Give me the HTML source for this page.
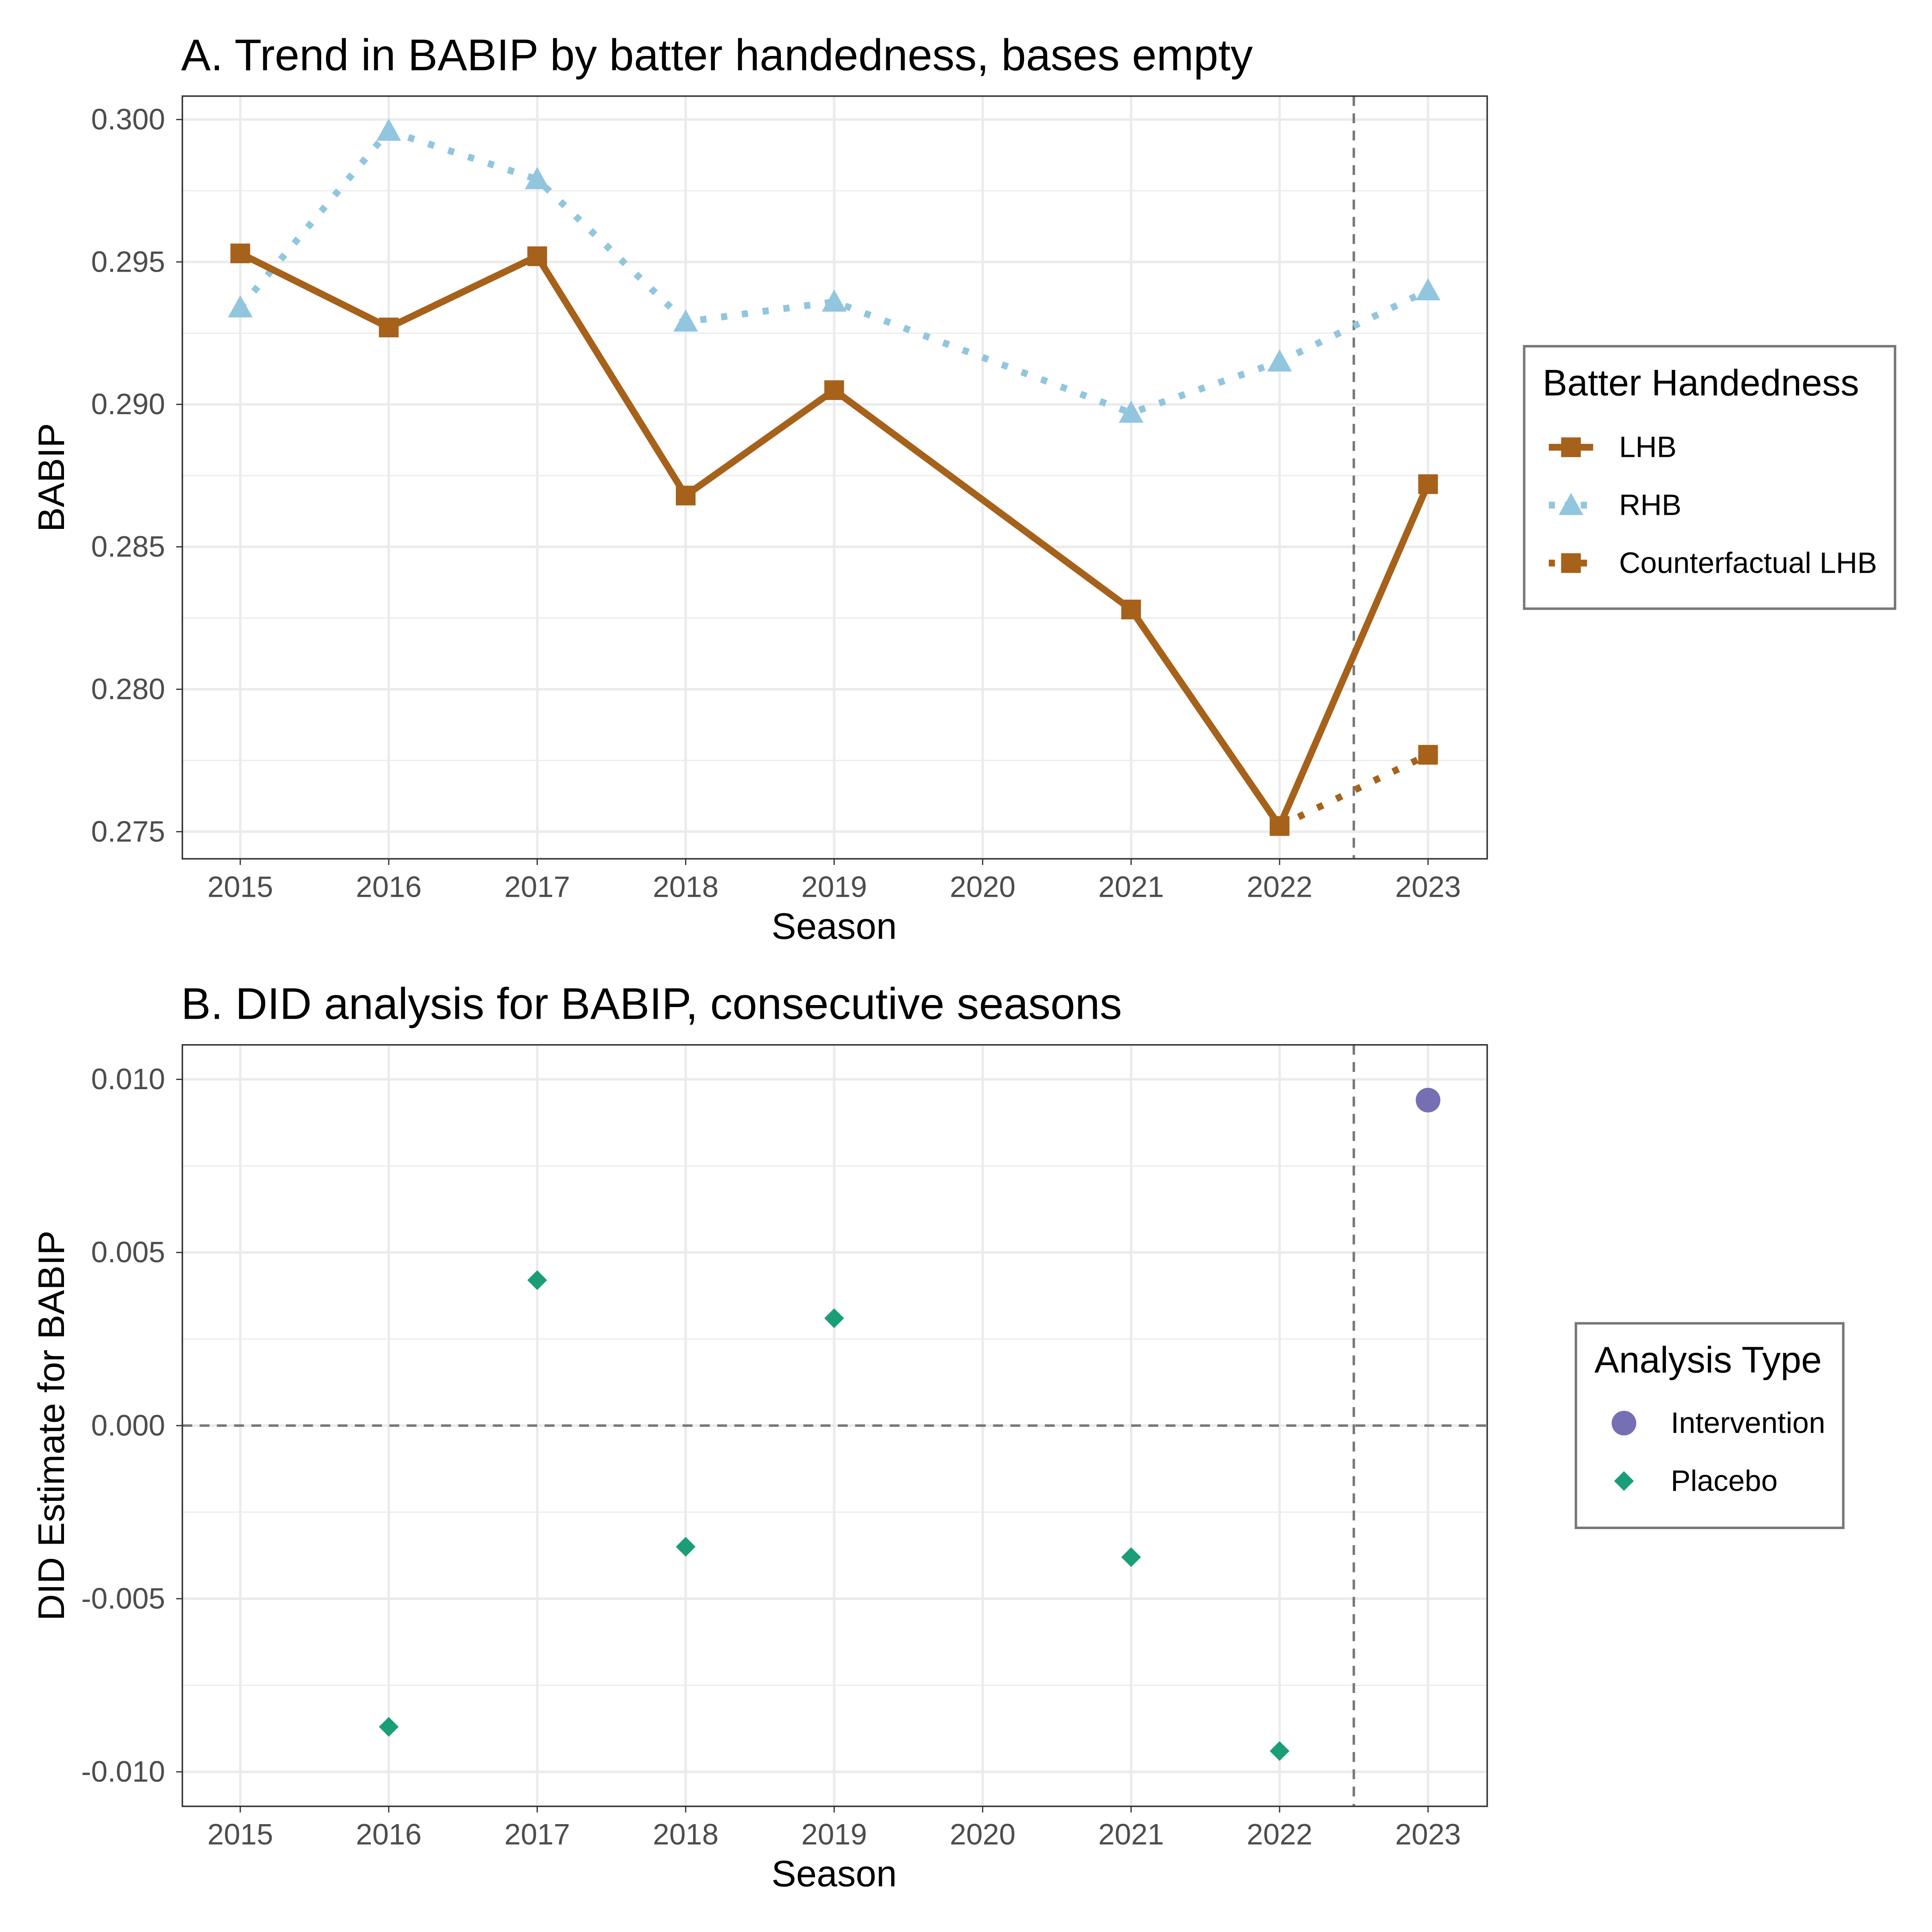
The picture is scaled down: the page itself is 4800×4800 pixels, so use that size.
<!DOCTYPE html>
<html><head><meta charset="utf-8"><style>html,body{margin:0;padding:0;background:#fff}svg{display:block}text{font-family:"Liberation Sans",sans-serif}</style></head>
<body>
<svg id="chart" width="4800" height="4800" viewBox="0 0 1568 1568" xmlns="http://www.w3.org/2000/svg">
<rect width="1568" height="1568" fill="#fff"/>
<g id="A"></g>
<g id="B"></g>
</svg>
<script>
const seasons=[2015,2016,2017,2018,2019,2020,2021,2022,2023];
const lhbYears=[2015,2016,2017,2018,2019,2021,2022,2023];
const lhbValues=[0.2953,0.2927,0.2952,0.2868,0.2905,0.2828,0.2752,0.2872];
const rhbYears=[2015,2016,2017,2018,2019,2021,2022,2023];
const rhbValues=[0.2934,0.2996,0.2979,0.2929,0.2936,0.2897,0.2915,0.2940];
const cfYears=[2022,2023];
const cfValues=[0.2752,0.2777];
const aTicks=[0.275,0.280,0.285,0.290,0.295,0.300];
const aTickLabels=["0.275","0.280","0.285","0.290","0.295","0.300"];
const placeboYears=[2016,2017,2018,2019,2021,2022];
const placeboValues=[-0.0087,0.0042,-0.0035,0.0031,-0.0038,-0.0094];
const interventionYears=[2023];
const interventionValues=[0.0094];
const bTicks=[-0.010,-0.005,0,0.005,0.010];
const bTickLabels=["-0.010","-0.005","0.000","0.005","0.010"];

const NS="http://www.w3.org/2000/svg";
function mk(parent,tag,attrs,text){const e=document.createElementNS(NS,tag);for(const k in attrs)e.setAttribute(k,attrs[k]);if(text!==undefined)e.textContent=text;parent.appendChild(e);return e;}
const xs=y=>195+(y-2015)*120.5;
const yA=v=>97+(0.300-v)*23120;
const yB=v=>1157-v*28100;

function frame(g,top,bot,ticks,labels,ys,title,ytitle,ticksMinor){
  mk(g,'rect',{x:148,y:top,width:1059,height:bot-top,fill:'#fff'});
  ticksMinor.forEach(v=>{const l=mk(g,'line',{x1:148,x2:1207,y1:ys(v),y2:ys(v),stroke:'#ebebeb','stroke-width':1});
    
    });
  ticks.forEach((v,i)=>{const l=mk(g,'line',{x1:148,x2:1207,y1:ys(v),y2:ys(v),stroke:'#ebebeb','stroke-width':2});
    
    
    const t=mk(g,'text',{x:134,y:ys(v)+8,'text-anchor':'end','font-size':24,fill:'#4d4d4d'},labels[i]);
    
    
    mk(g,'line',{x1:143,x2:148,y1:ys(v),y2:ys(v),stroke:'#333','stroke-width':1});});
  seasons.forEach(s=>{const l=mk(g,'line',{x1:xs(s),x2:xs(s),y1:top,y2:bot,stroke:'#ebebeb','stroke-width':2});
    
    
    mk(g,'line',{x1:xs(s),x2:xs(s),y1:bot,y2:bot+5,stroke:'#333','stroke-width':1});
    const t=mk(g,'text',{x:xs(s),y:bot+31,'text-anchor':'middle','font-size':24,fill:'#4d4d4d'},String(s));
    
    });
  const vl=mk(g,'line',{x1:xs(2022.5),x2:xs(2022.5),y1:top,y2:bot,stroke:'#777','stroke-width':2,'stroke-dasharray':'8,6'});
  
  
  const tt=mk(g,'text',{x:147,y:top-21,'font-size':36,fill:'#000'},title);
  
  
  const xt=mk(g,'text',{x:677,y:bot+65,'text-anchor':'middle','font-size':30,fill:'#000'},'Season');
  
  
  const cy=(top+bot)/2;
  const yt=mk(g,'text',{x:52,y:cy,'text-anchor':'middle','font-size':30,fill:'#000',transform:`rotate(-90 52 ${cy})`},ytitle);
  
  
}
function border(g,top,bot){const r=mk(g,'rect',{x:148,y:top,width:1059,height:bot-top,fill:'none',stroke:'#333','stroke-width':1.2});
  
  }
function sq(g,x,y,name){const r=mk(g,'rect',{x:x-8,y:y-8,width:16,height:16,fill:'#a6611a'});
  
  }
function tri(g,x,y,name){const p=mk(g,'polygon',{points:`${x},${y-10} ${x-10},${y+8} ${x+10},${y+8}`,fill:'#92c5de'});
  
  }
function dia(g,x,y,name){const p=mk(g,'polygon',{points:`${x},${y-8} ${x+8},${y} ${x},${y+8} ${x-8},${y}`,fill:'#1b9e77'});
  
  }

const A=document.getElementById('A');
const aMinor=[0.2775,0.2825,0.2875,0.2925,0.2975];
frame(A,78,697,aTicks,aTickLabels,yA,'A. Trend in BABIP by batter handedness, bases empty','BABIP',aMinor);
const rl=mk(A,'polyline',{points:rhbYears.map((y,i)=>xs(y)+','+yA(rhbValues[i])).join(' '),fill:'none',stroke:'#92c5de','stroke-width':5.5,'stroke-dasharray':'5,12'});


const cl=mk(A,'polyline',{points:cfYears.map((y,i)=>xs(y)+','+yA(cfValues[i])).join(' '),fill:'none',stroke:'#a6611a','stroke-width':5.5,'stroke-dasharray':'5,12'});


const ll=mk(A,'polyline',{points:lhbYears.map((y,i)=>xs(y)+','+yA(lhbValues[i])).join(' '),fill:'none',stroke:'#a6611a','stroke-width':5.5});


rhbYears.forEach((y,i)=>tri(A,xs(y),yA(rhbValues[i]),'rhb-point'));
lhbYears.forEach((y,i)=>sq(A,xs(y),yA(lhbValues[i]),'lhb-point'));
cfYears.forEach((y,i)=>sq(A,xs(y),yA(cfValues[i]),'counterfactual-point'));
border(A,78,697);
const lgA=mk(A,'g',{});


mk(lgA,'rect',{x:1237,y:281,width:301,height:213,fill:'#fff',stroke:'#777','stroke-width':2});
mk(lgA,'text',{x:1252,y:321,'font-size':30},'Batter Handedness');
mk(lgA,'line',{x1:1257,x2:1293,y1:363,y2:363,stroke:'#a6611a','stroke-width':5.5});sq(lgA,1275,363,'legend-lhb-key');
mk(lgA,'text',{x:1314,y:371,'font-size':24},'LHB');
mk(lgA,'line',{x1:1257,x2:1293,y1:410,y2:410,stroke:'#92c5de','stroke-width':5.5,'stroke-dasharray':'5,8'});tri(lgA,1275,410,'legend-rhb-key');
mk(lgA,'text',{x:1314,y:418,'font-size':24},'RHB');
mk(lgA,'line',{x1:1257,x2:1293,y1:457,y2:457,stroke:'#a6611a','stroke-width':5.5,'stroke-dasharray':'5,8'});sq(lgA,1275,457,'legend-cf-key');
mk(lgA,'text',{x:1314,y:465,'font-size':24},'Counterfactual LHB');

const B=document.getElementById('B');
frame(B,848,1466,bTicks,bTickLabels,yB,'B. DID analysis for BABIP, consecutive seasons','DID Estimate for BABIP',[-0.0075,-0.0025,0.0025,0.0075]);
const hz=mk(B,'line',{x1:148,x2:1207,y1:yB(0),y2:yB(0),stroke:'#777','stroke-width':2,'stroke-dasharray':'8,6'});


placeboYears.forEach((y,i)=>dia(B,xs(y),yB(placeboValues[i]),'placebo-point'));
interventionYears.forEach((y,i)=>{const c=mk(B,'circle',{cx:xs(y),cy:yB(interventionValues[i]),r:10,fill:'#7570b3'});
  
  });
border(B,848,1466);
const lgB=mk(B,'g',{});


mk(lgB,'rect',{x:1279,y:1074,width:217,height:166,fill:'#fff',stroke:'#777','stroke-width':2});
mk(lgB,'text',{x:1294,y:1114,'font-size':30},'Analysis Type');
mk(lgB,'circle',{cx:1318,cy:1155,r:10,fill:'#7570b3'});
mk(lgB,'text',{x:1356,y:1163,'font-size':24},'Intervention');
dia(lgB,1318,1202,'legend-placebo-key');
mk(lgB,'text',{x:1356,y:1210,'font-size':24},'Placebo');
</script>
</body></html>
